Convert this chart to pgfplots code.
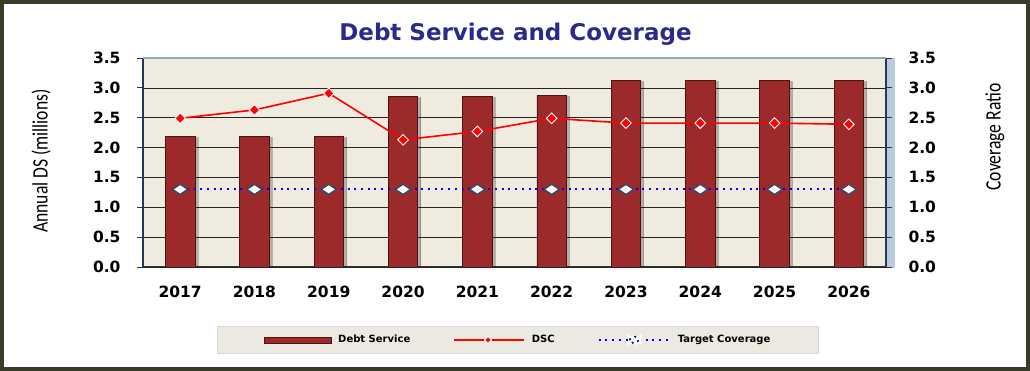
\documentclass[border=0pt]{standalone}
\usepackage{fontspec}
\setmainfont{DejaVu Sans}
\newfontfamily\carlito{Carlito}
\usepackage{graphicx}
\usepackage{pgfplots}
\pgfplotsset{compat=1.18}
\definecolor{barred}{HTML}{9C2A2A}
\definecolor{bardark}{HTML}{4A1414}
\definecolor{plotbg}{HTML}{EFEBDF}
\definecolor{navy}{HTML}{1F3864}
\definecolor{titleblue}{HTML}{2B2A8C}
\definecolor{framecol}{HTML}{3B3B29}
\definecolor{legbg}{HTML}{ECEAE0}
\definecolor{tgtedge}{HTML}{1F4E79}
\definecolor{topline}{HTML}{8EA9C8}
\begin{document}
\begin{tikzpicture}[x=1pt,y=1pt]
\fill[white] (0,0) rectangle (1030,371);
\draw[framecol, line width=4pt] (2,2) rectangle (1028,369);
\fill[topline!60!white] (886,103) rectangle (895,313);
\node[anchor=base, text=titleblue, font=\fontsize{23}{23}\selectfont\bfseries] at (515.5,330) {Debt Service and Coverage};
\node[rotate=90, font=\carlito\fontsize{22}{22}\selectfont] at (41,210) {\scalebox{0.8}[1]{Annual DS (millions)}};
\node[rotate=90, font=\carlito\fontsize{22}{22}\selectfont] at (995,234) {\scalebox{0.8}[1]{Coverage Ratio}};
\begin{axis}[
  at={(143pt,104pt)}, anchor=south west, scale only axis,
  width=743pt, height=209pt,
  xmin=-0.5, xmax=9.5, ymin=0, ymax=3.5,
  axis x line*=bottom, axis y line*=left,
  x axis line style={black!80, line width=1pt, -},
  y axis line style={navy, line width=2pt, -},
  axis background/.style={fill=plotbg},
  xtick={0,...,9},
  xticklabels={2017,2018,2019,2020,2021,2022,2023,2024,2025,2026},
  minor xtick={-0.5,0.5,...,9.5},
  ytick={0,0.5,...,3.5},
  yticklabels={0.0,0.5,1.0,1.5,2.0,2.5,3.0,3.5},
  tick align=outside,
  major tick length=6pt, minor tick length=5pt,
  xtick style={draw=none},
  minor x tick style={black!80, line width=0.8pt},
  ytick style={black!80, line width=0.8pt},
  ymajorgrids, major grid style={black!85, line width=0.7pt},
  tick label style={font=\fontsize{15.5}{15.5}\selectfont\bfseries},
  yticklabel style={xshift=-13pt},
  xticklabel style={yshift=-9pt},
]
\addplot[ybar, bar width=29.5pt, fill=barred, draw=bardark, line width=0.8pt,
  preaction={fill=black, opacity=0.25, transform canvas={xshift=3pt, yshift=-1pt}}]
  coordinates {(0,2.18) (1,2.18) (2,2.18) (3,2.85) (4,2.85) (5,2.87) (6,3.12) (7,3.12) (8,3.12) (9,3.12)};
\end{axis}
\begin{axis}[
  at={(143pt,104pt)}, anchor=south west, scale only axis,
  width=743pt, height=209pt,
  xmin=-0.5, xmax=9.5, ymin=0, ymax=3.5,
  hide x axis, axis y line*=right,
  y axis line style={navy, line width=2pt, -},
  ytick={0,0.5,...,3.5},
  yticklabels={0.0,0.5,1.0,1.5,2.0,2.5,3.0,3.5},
  tick align=outside, major tick length=6pt,
  ytick style={black!80, line width=0.8pt},
  tick label style={font=\fontsize{15.5}{15.5}\selectfont\bfseries},
  yticklabel style={xshift=13pt},
  legend columns=3,
  legend style={at={(0.5047,-0.349)}, anchor=center, fill=legbg, draw=black!15,
    font=\fontsize{10}{12}\selectfont\bfseries, inner xsep=46pt, inner ysep=7pt,
    /tikz/every even column/.append style={column sep=41pt},
    /tikz/every odd column/.append style={column sep=5pt}},
]
\addlegendimage{legend image code/.code={\draw[fill=barred,draw=bardark,line width=0.6pt] (0pt,-3pt) rectangle (67pt,3pt);}}
\addlegendentry{Debt Service}
\addplot[red, line width=1.6pt, mark=diamond*, mark size=5.3pt,
  mark options={xscale=1.33, fill=red, draw=white, line width=0.9pt},
  legend image code/.code={\draw[red,line width=1.5pt] (0pt,0pt) -- (30pt,0pt) (38pt,0pt) -- (70pt,0pt); \fill[red] (34pt,0pt) circle (1.3pt);}]
  coordinates {(0,2.49) (1,2.63) (2,2.91) (3,2.13) (4,2.27) (5,2.49) (6,2.41) (7,2.41) (8,2.41) (9,2.39)};
\addlegendentry{DSC}
\addplot[blue, line width=2.2pt, dash pattern=on 2pt off 4.7pt, mark=diamond*, mark size=5pt,
  mark options={solid, xscale=2, fill=white, draw=tgtedge, line width=1.2pt},
  legend image code/.code={\draw[blue,line width=2.2pt,dash pattern=on 2pt off 4.7pt] (0pt,0pt) -- (71pt,0pt); \fill[white] (29pt,-4pt) rectangle (42pt,4pt); \draw[blue!60!black,fill=white,line width=1.6pt] (30.5pt,0pt) -- (35.5pt,4pt) -- (40.5pt,0pt) -- (35.5pt,-4pt) -- cycle;}]
  coordinates {(0,1.3) (1,1.3) (2,1.3) (3,1.3) (4,1.3) (5,1.3) (6,1.3) (7,1.3) (8,1.3) (9,1.3)};
\addlegendentry{Target Coverage}
\draw[topline, line width=1.2pt] (rel axis cs:0,1) -- (rel axis cs:1,1);
\end{axis}
\end{tikzpicture}
\end{document}
